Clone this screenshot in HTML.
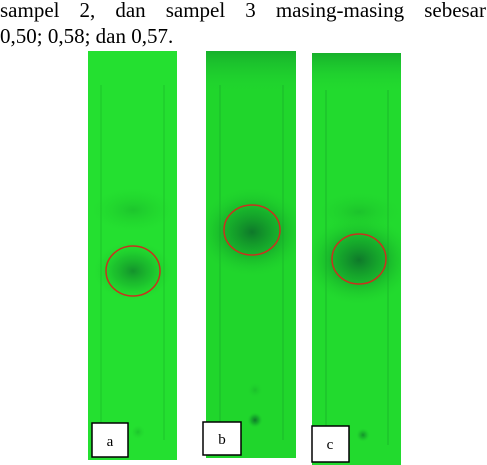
<!DOCTYPE html>
<html><head><meta charset="utf-8"><style>
html,body{margin:0;padding:0;background:#fff;width:487px;height:465px;overflow:hidden;position:relative}
.t{font-family:"Liberation Serif",serif;}
.line{position:absolute;left:0;width:486px;font-size:21px;line-height:26px;white-space:nowrap}
#l1{top:-3px;text-align:justify;text-align-last:justify}
#l2{top:23px}
svg{position:absolute;left:0;top:0}
</style></head><body>
<svg width="487" height="465" viewBox="0 0 487 465" xmlns="http://www.w3.org/2000/svg">
<defs>
<radialGradient id="spotA" cx="50%" cy="50%" r="50%"><stop offset="0" stop-color="#0f7f2a" stop-opacity="0.8"/><stop offset="0.5" stop-color="#14a02a" stop-opacity="0.45"/><stop offset="1" stop-color="#1fd02a" stop-opacity="0"/></radialGradient>
<radialGradient id="spotB" cx="50%" cy="50%" r="50%"><stop offset="0" stop-color="#0c6e2a" stop-opacity="0.9"/><stop offset="0.5" stop-color="#119a2a" stop-opacity="0.6"/><stop offset="1" stop-color="#1fd02a" stop-opacity="0"/></radialGradient>
<radialGradient id="band" cx="50%" cy="50%" r="50%"><stop offset="0" stop-color="#17b02a" stop-opacity="0.55"/><stop offset="1" stop-color="#1fd02a" stop-opacity="0"/></radialGradient>
<linearGradient id="topDark" x1="0" y1="0" x2="0" y2="1"><stop offset="0" stop-color="#17b02c"/><stop offset="1" stop-color="#22d830" stop-opacity="0"/></linearGradient>
<clipPath id="ca"><rect x="88" y="51" width="89" height="409"/></clipPath>
<clipPath id="cb"><rect x="206" y="51" width="90" height="407"/></clipPath>
<clipPath id="cc"><rect x="312" y="53" width="89" height="412"/></clipPath>
</defs>

<g clip-path="url(#ca)">
<rect x="88" y="51" width="89" height="409" fill="#24e030"/>
<line x1="101" y1="85" x2="101" y2="440" stroke="#1dc42a" stroke-width="1"/>
<line x1="164" y1="85" x2="164" y2="440" stroke="#1dc42a" stroke-width="1"/>
<ellipse cx="133" cy="210" rx="42" ry="22" fill="url(#band)"/>
<ellipse cx="133" cy="271" rx="40" ry="30" fill="url(#spotA)"/>
<circle cx="138" cy="432" r="7" fill="url(#band)"/>
</g>
<ellipse cx="133" cy="271" rx="27" ry="25" fill="none" stroke="#c8321e" stroke-width="1.5"/>
<rect x="92" y="423" width="36" height="34" fill="#fff" stroke="#000" stroke-width="1.5"/>
<text class="t" x="110" y="446" font-size="15" text-anchor="middle">a</text>

<g clip-path="url(#cb)">
<rect x="206" y="51" width="90" height="407" fill="#20d62c"/>
<rect x="206" y="51" width="90" height="45" fill="url(#topDark)"/>
<line x1="220" y1="85" x2="220" y2="440" stroke="#1ab82a" stroke-width="1"/>
<line x1="283" y1="85" x2="283" y2="440" stroke="#1ab82a" stroke-width="1"/>
<ellipse cx="252" cy="232" rx="55" ry="45" fill="url(#spotB)"/>
<circle cx="255" cy="420" r="8" fill="url(#spotB)"/>
<circle cx="255" cy="390" r="8" fill="url(#band)"/>
</g>
<ellipse cx="252" cy="230" rx="28" ry="25" fill="none" stroke="#c8321e" stroke-width="1.5"/>
<rect x="203" y="422" width="38" height="33" fill="#fff" stroke="#000" stroke-width="1.5"/>
<text class="t" x="222" y="444" font-size="15" text-anchor="middle">b</text>

<g clip-path="url(#cc)">
<rect x="312" y="53" width="89" height="412" fill="#22da2e"/>
<rect x="312" y="53" width="89" height="40" fill="url(#topDark)"/>
<line x1="326" y1="90" x2="326" y2="445" stroke="#1ab82a" stroke-width="1"/>
<line x1="388" y1="90" x2="388" y2="445" stroke="#1ab82a" stroke-width="1"/>
<ellipse cx="359" cy="212" rx="42" ry="20" fill="url(#band)"/>
<ellipse cx="359" cy="260" rx="55" ry="45" fill="url(#spotB)"/>
<circle cx="363" cy="435" r="7" fill="url(#spotA)"/>
</g>
<ellipse cx="359" cy="259" rx="27" ry="25" fill="none" stroke="#c8321e" stroke-width="1.5"/>
<rect x="312" y="426" width="37" height="36" fill="#fff" stroke="#000" stroke-width="1.5"/>
<text class="t" x="330" y="449" font-size="15" text-anchor="middle">c</text>
</svg>
<div id="l1" class="t line">sampel 2, dan sampel 3 masing-masing sebesar</div>
<div id="l2" class="t line">0,50; 0,58; dan 0,57.</div>
</body></html>
